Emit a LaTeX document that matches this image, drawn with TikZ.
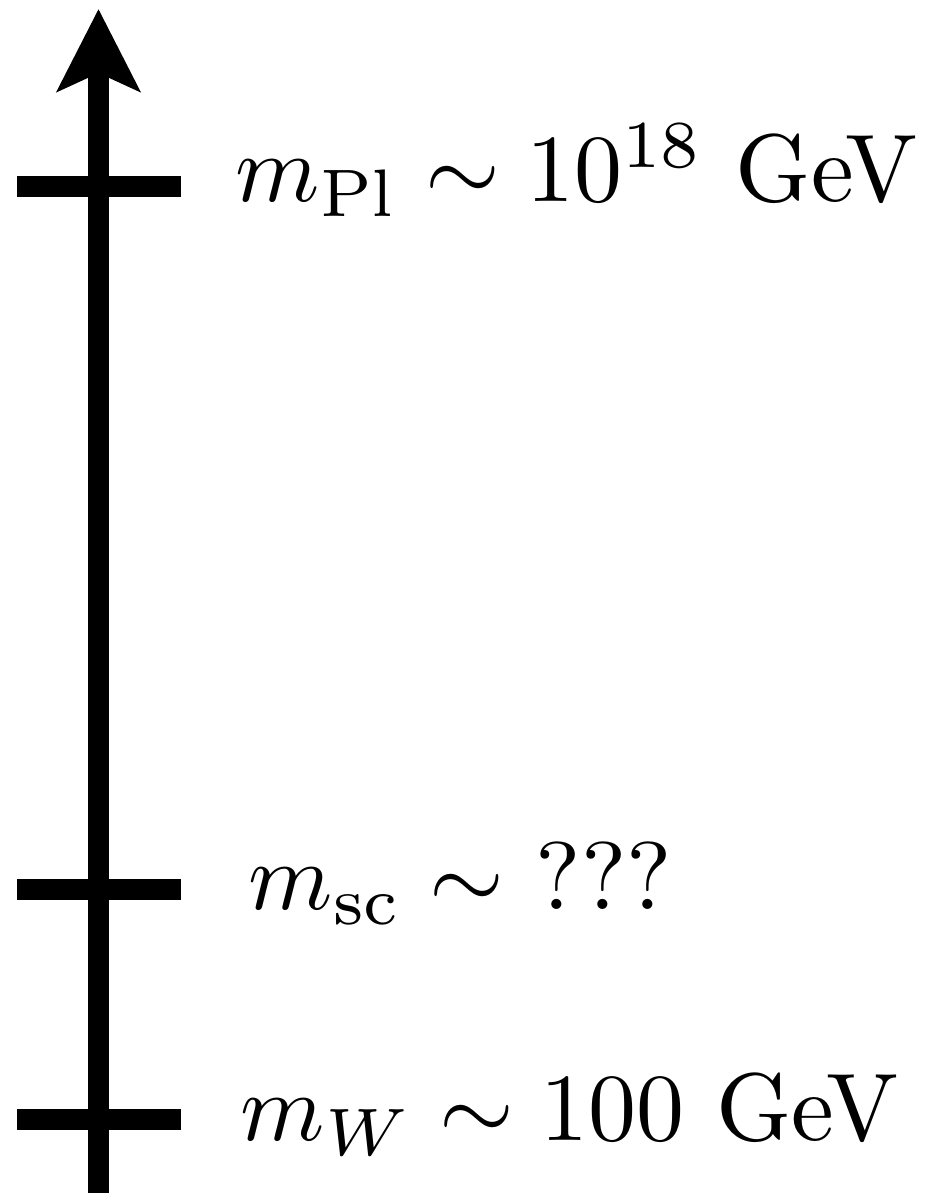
\documentclass[tikz,border=0pt]{standalone}
\usetikzlibrary{positioning,arrows.meta}

\begin{document}
\begin{tikzpicture}[x=1pt, y=1pt,
      every node/.style={font=\normalsize, scale=9.6, inner sep=0pt, anchor=base west},
      axis/.style={line width=21pt, -{Stealth[length=82pt, width=82pt, inset=18pt]}},
      tick/.style={line width=21pt},
  ]
    \useasboundingbox (0,0) rectangle (925,1193);
    % axis
    \coordinate (bot) at (98.5,0);
    \coordinate (top) at (98.5,1184);
    \draw[axis] (bot) -- (top);
    % ticks
    \coordinate (pl-l) at (17,1006.5);
    \coordinate (pl-r) at (181,1006.5);
    \coordinate (sc-l) at (17,303);
    \coordinate (sc-r) at (181,303);
    \coordinate (w-l) at (17,73);
    \coordinate (w-r) at (181,73);
    \draw[tick] (pl-l) -- (pl-r);
    \draw[tick] (sc-l) -- (sc-r);
    \draw[tick] (w-l) -- (w-r);
    % labels
    \node (pl) at (234,991) {$m_{\mathrm{Pl}} \sim 10^{18}$ GeV};
    \node (sc) at (247,283) {$m_{\mathrm{sc}} \sim$ ???};
    \node (w) at (239,52) {$m_W \sim 100$ GeV};
\end{tikzpicture}
\end{document}
